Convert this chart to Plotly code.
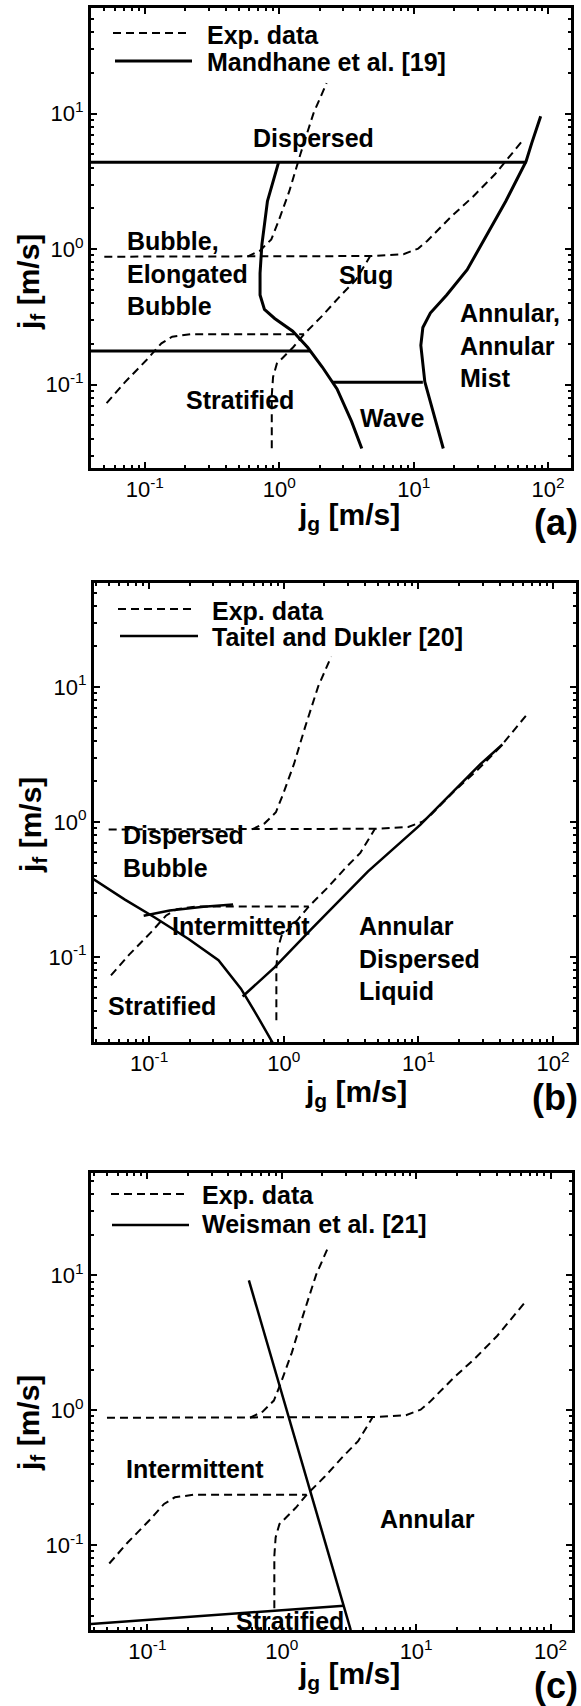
import math
import plotly.graph_objects as go

W, H = 581, 1706

# ---- experimental transition lines (same measurements in every map) ----
exp_low_jg = [0.052, 0.071, 0.103, 0.133, 0.16, 0.22, 1.53]
exp_low_jf = [0.073, 0.104, 0.152, 0.202, 0.226, 0.236, 0.236]

exp_mid_jg = [0.88, 0.88, 0.90, 0.96, 1.09, 1.27, 1.53, 2.10, 2.88, 3.70, 4.75]
exp_mid_jf = [0.034, 0.083, 0.114, 0.143, 0.162, 0.189, 0.236, 0.324, 0.458, 0.59, 0.89]

exp_high_jg = [0.05, 0.58, 4.75, 8.4, 10.8, 12.6, 18.9, 27.6, 40.2, 66.0]
exp_high_jf = [0.88, 0.88, 0.89, 0.918, 1.01, 1.15, 1.73, 2.44, 3.57, 6.5]

exp_up_jg = [0.58, 0.72, 0.873, 0.99, 1.19, 1.44, 1.80, 2.25]
exp_up_jf = [0.88, 0.977, 1.18, 1.62, 2.69, 5.06, 10.1, 16.8]

# ---- (a) Mandhane et al. ----
mand_disp_jg = [0.03, 69.0]
mand_disp_jf = [4.39, 4.39]
mand_bub_jg = [0.99, 0.817, 0.743, 0.72, 0.72, 0.776, 0.925, 1.26, 1.63, 2.09, 2.69, 3.45, 4.11]
mand_bub_jf = [4.39, 2.26, 1.08, 0.664, 0.459, 0.359, 0.308, 0.248, 0.188, 0.135, 0.093, 0.0536, 0.0338]
mand_strat_jg = [0.03, 1.70]
mand_strat_jf = [0.177, 0.177]
mand_wave_jg = [2.49, 11.7]
mand_wave_jf = [0.104, 0.104]
mand_ann_jg = [16.6, 14.2, 12.1, 11.3, 11.7, 13.3, 17.6, 25.0, 35.3, 48.4, 58.5, 68.5, 75.4, 88.0]
mand_ann_jf = [0.0338, 0.0605, 0.105, 0.195, 0.264, 0.338, 0.459, 0.705, 1.30, 2.26, 3.27, 4.44, 6.04, 9.57]

# ---- (b) Taitel and Dukler ----
td_strat_jg = [0.036, 0.066, 0.110, 0.196, 0.327, 0.48, 0.62, 0.80, 0.85]
td_strat_jf = [0.394, 0.266, 0.196, 0.136, 0.0946, 0.0582, 0.0381, 0.0249, 0.022]
td_int_jg = [0.091, 0.142, 0.253, 0.42]
td_int_jf = [0.202, 0.221, 0.235, 0.245]
td_ann_jg = [0.494, 0.853, 1.62, 4.22, 10.3, 28.7, 42.0]
td_ann_jf = [0.0509, 0.0838, 0.163, 0.431, 0.95, 2.67, 3.75]

# ---- (c) Weisman et al. ----
ws_trans_jg = [0.569, 1.585, 3.26]
ws_trans_jf = [9.2, 0.277, 0.0234]
ws_strat_jg = [0.038, 0.1, 0.466, 2.9]
ws_strat_jf = [0.026, 0.0278, 0.031, 0.0355]

# axis ticks
major_x = [0.1, 1, 10, 100]
major_x_text = ["10<sup>-1</sup>", "10<sup>0</sup>", "10<sup>1</sup>", "10<sup>2</sup>"]
major_y = [0.1, 1, 10]
major_y_text = ["10<sup>-1</sup>", "10<sup>0</sup>", "10<sup>1</sup>"]
minor_vals = [k * 10.0 ** e for e in range(-2, 3) for k in range(2, 10)]

FONT = "Liberation Sans, Arial, sans-serif"
DASH = "8px,5px"
TXT = 25

panels = [
    dict(tag="a", box=(91, 571, 8, 468), xr=(-1.40, 2.17), yr=(-1.615, 1.78),
         model="Mandhane et al. [19]", sw=3,
         lines=[(mand_disp_jg, mand_disp_jf), (mand_bub_jg, mand_bub_jf),
                (mand_strat_jg, mand_strat_jf), (mand_wave_jg, mand_wave_jf),
                (mand_ann_jg, mand_ann_jf)],
         leg=dict(dash=(113, 188, 33), solid=(115, 192, 61), tx=205, ty=(35, 62)),
         labels=[("Dispersed", 1.79, 6.6, "center"),
                 ("Bubble,<br>Elongated<br>Bubble", 0.071, 0.664, "left"),
                 ("Slug", 4.43, 0.643, "center"),
                 ("Stratified", 0.51, 0.0774, "center"),
                 ("Wave", 6.87, 0.057, "center"),
                 ("Annular,<br>Annular<br>Mist", 21.3, 0.195, "left")],
         xt=(349, 516), yt=(30, 282), lab=(580, 523)),
    dict(tag="b", box=(94, 576, 583, 1042), xr=(-1.41, 2.17), yr=(-1.63, 1.77),
         model="Taitel and Dukler [20]", sw=2.5,
         lines=[(td_strat_jg, td_strat_jf), (td_int_jg, td_int_jf), (td_ann_jg, td_ann_jf)],
         leg=dict(dash=(118, 193, 609), solid=(120, 198, 636), tx=210, ty=(611, 637)),
         labels=[("Dispersed<br>Bubble", 0.062, 0.60, "left"),
                 ("Intermittent", 0.48, 0.169, "center"),
                 ("Annular<br>Dispersed<br>Liquid", 3.48, 0.0975, "left"),
                 ("Stratified", 0.125, 0.043, "center")],
         xt=(356, 1093), yt=(32, 825), lab=(580, 1097)),
    dict(tag="c", box=(91, 572, 1173, 1630), xr=(-1.42, 2.16), yr=(-1.63, 1.76),
         model="Weisman et al. [21]", sw=2.5,
         lines=[(ws_trans_jg, ws_trans_jf), (ws_strat_jg, ws_strat_jf)],
         leg=dict(dash=(111, 187, 1194), solid=(112, 189, 1225), tx=200, ty=(1195, 1224)),
         labels=[("Intermittent", 0.226, 0.367, "center"),
                 ("Annular", 12.2, 0.157, "center"),
                 ("Stratified", 1.16, 0.0275, "center")],
         xt=(349, 1675), yt=(30, 1423), lab=(580, 1685)),
]

fig = go.Figure()
layout = dict(width=W, height=H, margin=dict(l=0, r=0, t=0, b=0),
              paper_bgcolor="white", plot_bgcolor="white", showlegend=False,
              font=dict(family=FONT, color="black"))
shapes, annotations = [], []

for i, p in enumerate(panels):
    n = "" if i == 0 else str(i + 1)
    xa, ya = "x" + n, "y" + n
    x0, x1, y0, y1 = p["box"]
    for gx, gy in [(exp_low_jg, exp_low_jf), (exp_mid_jg, exp_mid_jf),
                   (exp_high_jg, exp_high_jf), (exp_up_jg, exp_up_jf)]:
        fig.add_trace(go.Scatter(x=gx, y=gy, mode="lines", xaxis=xa, yaxis=ya,
                                 line=dict(color="black", width=2, dash=DASH)))
    for gx, gy in p["lines"]:
        fig.add_trace(go.Scatter(x=gx, y=gy, mode="lines", xaxis=xa, yaxis=ya,
                                 line=dict(color="black", width=p["sw"])))
    axis_common = dict(type="log", showline=True, linewidth=3, linecolor="black",
                       mirror="ticks", ticks="inside", ticklen=6, tickwidth=1.5,
                       tickcolor="black", showgrid=False, zeroline=False,
                       tickfont=dict(family=FONT, size=22, color="black"),
                       minor=dict(tickmode="array", tickvals=minor_vals, ticks="inside",
                                  ticklen=3, tickwidth=1.5, tickcolor="black", showgrid=False))
    layout["xaxis" + n] = dict(axis_common, domain=[x0 / W, x1 / W], range=list(p["xr"]),
                               anchor=ya, tickmode="array", tickvals=major_x,
                               ticktext=major_x_text)
    layout["yaxis" + n] = dict(axis_common, domain=[1 - y1 / H, 1 - y0 / H], range=list(p["yr"]),
                               anchor=xa, tickmode="array", tickvals=major_y,
                               ticktext=major_y_text)
    # legend samples
    lg = p["leg"]
    for (a, b, yy), dash, wdt in [(lg["dash"], DASH, 2), (lg["solid"], "solid", p["sw"])]:
        shapes.append(dict(type="line", xref="paper", yref="paper",
                           x0=a / W, x1=b / W, y0=1 - yy / H, y1=1 - yy / H,
                           line=dict(color="black", width=wdt, dash=dash)))
    for txt, yy in zip(["Exp. data", p["model"]], lg["ty"]):
        annotations.append(dict(text="<b>%s</b>" % txt, xref="paper", yref="paper",
                                x=lg["tx"] / W, y=1 - yy / H, xanchor="left", yanchor="middle",
                                showarrow=False, font=dict(size=TXT, family=FONT)))
    # regime names
    for txt, lx, ly, al in p["labels"]:
        annotations.append(dict(text="<b>%s</b>" % txt, xref=xa, yref=ya,
                                x=math.log10(lx), y=math.log10(ly),
                                xanchor="left" if al == "left" else "center", yanchor="middle",
                                align=al, showarrow=False,
                                font=dict(size=TXT, family=FONT)))
    # axis titles and panel tag
    annotations.append(dict(text="<b>j<sub>g</sub> [m/s]</b>", xref="paper", yref="paper",
                            x=p["xt"][0] / W, y=1 - p["xt"][1] / H, xanchor="center",
                            yanchor="middle", showarrow=False, font=dict(size=30, family=FONT)))
    annotations.append(dict(text="<b>j<sub>f</sub> [m/s]</b>", xref="paper", yref="paper",
                            x=p["yt"][0] / W, y=1 - p["yt"][1] / H, xanchor="center",
                            yanchor="middle", textangle=-90, showarrow=False,
                            font=dict(size=30, family=FONT)))
    annotations.append(dict(text="<b>(%s)</b>" % p["tag"], xref="paper", yref="paper",
                            x=p["lab"][0] / W, y=1 - p["lab"][1] / H, xanchor="right",
                            yanchor="middle", showarrow=False, font=dict(size=36, family=FONT)))

layout["shapes"] = shapes
layout["annotations"] = annotations
fig.update_layout(**layout)
fig.write_html("out.html")
